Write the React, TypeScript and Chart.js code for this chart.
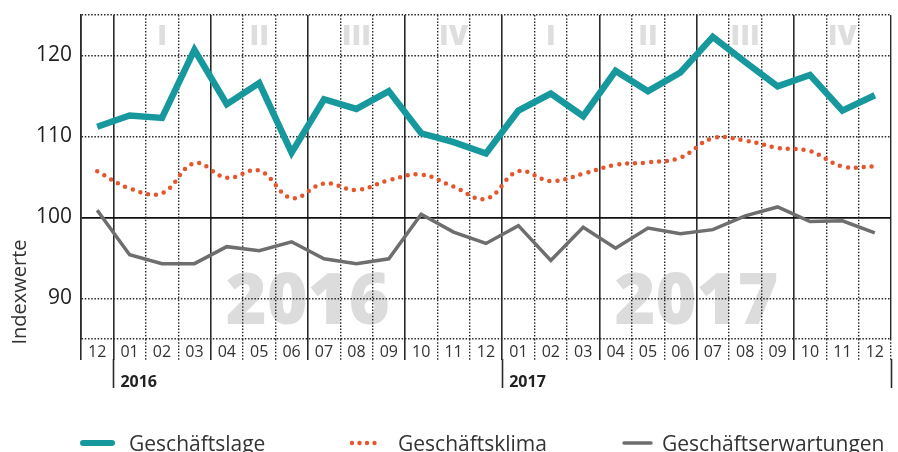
import React, { useEffect, useRef } from 'react';
import { Chart, registerables } from 'chart.js';

Chart.register(...registerables);

// ---- data ----
const months = ['12', '01', '02', '03', '04', '05', '06', '07', '08', '09', '10', '11', '12',
  '01', '02', '03', '04', '05', '06', '07', '08', '09', '10', '11', '12'];
const yearLabels = ['2016', '2017'];
const quarterLabels = ['I', 'II', 'III', 'IV', 'I', 'II', 'III', 'IV'];
const seriesLabels = ['Geschäftslage', 'Geschäftsklima', 'Geschäftserwartungen'];
const geschaeftslage = [111.2, 112.6, 112.3, 120.7, 114.0, 116.6, 108.0, 114.6, 113.4, 115.6, 110.4, 109.3, 107.9,
  113.2, 115.3, 112.5, 118.1, 115.6, 117.9, 122.3, 119.2, 116.2, 117.6, 113.2, 115.1];
const geschaeftsklima = [105.7, 103.6, 103.0, 106.7, 104.9, 105.8, 102.4, 104.2, 103.4, 104.6, 105.3, 103.8, 102.3,
  105.7, 104.5, 105.4, 106.5, 106.8, 107.4, 109.8, 109.5, 108.6, 108.2, 106.3, 106.3];
const geschaeftserwartungen = [100.9, 95.4, 94.3, 94.3, 96.4, 95.9, 97.0, 94.9, 94.3, 94.9, 100.4, 98.2, 96.8,
  99.0, 94.7, 98.8, 96.2, 98.7, 98.0, 98.5, 100.2, 101.3, 99.5, 99.6, 98.1];
const yTicks = [85, 90, 100, 110, 120, 125];
const shownYTicks = [90, 100, 110, 120];

// ---- styles ----
const FONT = '"Open Sans", "Noto Sans", sans-serif';
const TEAL = '#16989d';
const ORANGE = '#e4572e';
const GRAY = '#6e6e6e';
const LINE = '#2a2a2a';
const DOTS = [1.5, 1.7];

const isSolidX = (i: number) => i === 0 || (i - 1) % 3 === 0;

const decor = {
  id: 'decor',
  beforeDraw(chart: any) {
    const { ctx, chartArea, scales } = chart;
    const x = scales.x, y = scales.y;
    ctx.save();
    ctx.textAlign = 'center';
    ctx.textBaseline = 'alphabetic';
    ctx.font = `800 70px ${FONT}`;
    ctx.fillStyle = '#dcdcdc';
    yearLabels.forEach((t, i) => {
      ctx.fillText(t, x.getPixelForValue(6.5 + 12 * i), y.getPixelForValue(90) + 25);
    });
    ctx.font = `800 28px ${FONT}`;
    ctx.fillStyle = '#dedede';
    quarterLabels.forEach((q, i) => {
      ctx.fillText(q, x.getPixelForValue(2 + 3 * i), chartArea.top + 30);
    });
    ctx.restore();
  },
  afterDraw(chart: any) {
    const { ctx, chartArea, scales } = chart;
    const x = scales.x;
    ctx.save();
    // extended year boundary lines
    ctx.strokeStyle = LINE;
    ctx.lineWidth = 1.6;
    [0.5, 12.5, 24.5].forEach((v) => {
      const px = Math.round(x.getPixelForValue(v)) + 0.5;
      ctx.beginPath();
      ctx.moveTo(px, chartArea.bottom + 20);
      ctx.lineTo(px, 388);
      ctx.stroke();
    });
    // year labels
    ctx.font = `bold 16px ${FONT}`;
    ctx.fillStyle = '#222';
    ctx.textAlign = 'left';
    ctx.textBaseline = 'alphabetic';
    yearLabels.forEach((t, i) => {
      ctx.fillText(t, x.getPixelForValue(0.5 + 12 * i) + 7, 387);
    });
    // axis title
    ctx.save();
    ctx.translate(20, 292);
    ctx.rotate(-Math.PI / 2);
    ctx.font = `20px ${FONT}`;
    ctx.fillStyle = '#333';
    ctx.textAlign = 'center';
    ctx.textBaseline = 'middle';
    ctx.fillText('Indexwerte', 0, 0);
    ctx.restore();
    // legend
    const ly = 443;
    const ds = chart.data.datasets;
    ctx.lineCap = 'round';
    ctx.strokeStyle = ds[0].borderColor;
    ctx.lineWidth = 6;
    ctx.beginPath(); ctx.moveTo(83, ly); ctx.lineTo(112, ly); ctx.stroke();
    ctx.fillStyle = ds[1].borderColor;
    [352, 359.5, 367, 374.5].forEach((cx) => {
      ctx.beginPath(); ctx.arc(cx, ly, 2.2, 0, Math.PI * 2); ctx.fill();
    });
    ctx.strokeStyle = ds[2].borderColor;
    ctx.lineWidth = 3.5;
    ctx.beginPath(); ctx.moveTo(624, ly); ctx.lineTo(651, ly); ctx.stroke();
    ctx.font = `21px ${FONT}`;
    ctx.fillStyle = '#333';
    ctx.textAlign = 'left';
    ctx.textBaseline = 'alphabetic';
    const tx = [129, 398, 662];
    ds.forEach((d: any, i: number) => ctx.fillText(d.label, tx[i], ly + 7.5));
    ctx.restore();
  },
};

export default function App() {
  const ref = useRef<HTMLCanvasElement>(null);
  useEffect(() => {
    document.body.style.margin = '0';
    const chart = new Chart(ref.current as HTMLCanvasElement, {
      type: 'line',
      data: {
        labels: months,
        datasets: [
          {
            label: seriesLabels[0], data: geschaeftslage, borderColor: TEAL, borderWidth: 6.5,
            pointRadius: 0, tension: 0, borderJoinStyle: 'miter',
          },
          {
            label: seriesLabels[1], data: geschaeftsklima, borderColor: ORANGE, borderWidth: 4.5,
            borderDash: [0, 8], borderCapStyle: 'round', pointRadius: 0, tension: 0.4,
          },
          {
            label: seriesLabels[2], data: geschaeftserwartungen, borderColor: GRAY, borderWidth: 3.5,
            pointRadius: 0, tension: 0,
          },
        ],
      } as any,
      options: {
        responsive: false,
        animation: false,
        layout: { padding: { top: 15, right: 7, left: 0, bottom: 0 } },
        plugins: { legend: { display: false }, tooltip: { enabled: false } },
        scales: {
          x: {
            type: 'category',
            offset: true,
            grid: {
              offset: true,
              color: LINE,
              lineWidth: (c: any) => (isSolidX(c.index) ? 1.6 : 1.4),
              drawTicks: true,
              tickLength: 21,
              tickColor: LINE,
              tickWidth: (c: any) => (isSolidX(c.index) ? 1.6 : 1.4),
              tickBorderDash: (c: any) => (isSolidX(c.index) ? [] : DOTS),
            },
            border: { display: false, dash: (c: any) => (c.index !== undefined && !isSolidX(c.index) ? DOTS : []) },
            ticks: {
              autoSkip: false, maxRotation: 0, minRotation: 0, padding: -17, color: '#333',
              font: { family: FONT, size: 16 },
            },
            afterFit: (s: any) => {
              s.height = 113;
              s.paddingLeft = 0; s.paddingRight = 0; s.paddingTop = 0; s.paddingBottom = 0;
            },
          },
          y: {
            min: 85,
            max: 125,
            afterBuildTicks: (s: any) => { s.ticks = yTicks.map((v) => ({ value: v })); },
            grid: {
              color: (c: any) => (c.tick && c.tick.value === 100 ? '#111' : LINE),
              lineWidth: (c: any) => (c.tick && c.tick.value === 100 ? 1.8 : 1.4),
              drawTicks: false,
            },
            border: {
              display: true, color: LINE, width: 1.6,
              dash: (c: any) => (c.tick && c.tick.value !== 100 ? DOTS : []),
            },
            ticks: {
              padding: 9, color: '#222', font: { family: FONT, size: 21 },
              callback: (v: any) => (shownYTicks.includes(Number(v)) ? String(v) : ''),
            },
            afterFit: (s: any) => {
              s.width = 81;
              s.paddingLeft = 0; s.paddingRight = 0; s.paddingTop = 0; s.paddingBottom = 0;
            },
          },
        },
      } as any,
      plugins: [decor],
    });
    return () => chart.destroy();
  }, []);
  return (
    <div style={{ position: 'absolute', left: 0, top: 0, width: 898, height: 452 }}>
      <canvas ref={ref} width={898} height={452} style={{ display: 'block' }} />
    </div>
  );
}
